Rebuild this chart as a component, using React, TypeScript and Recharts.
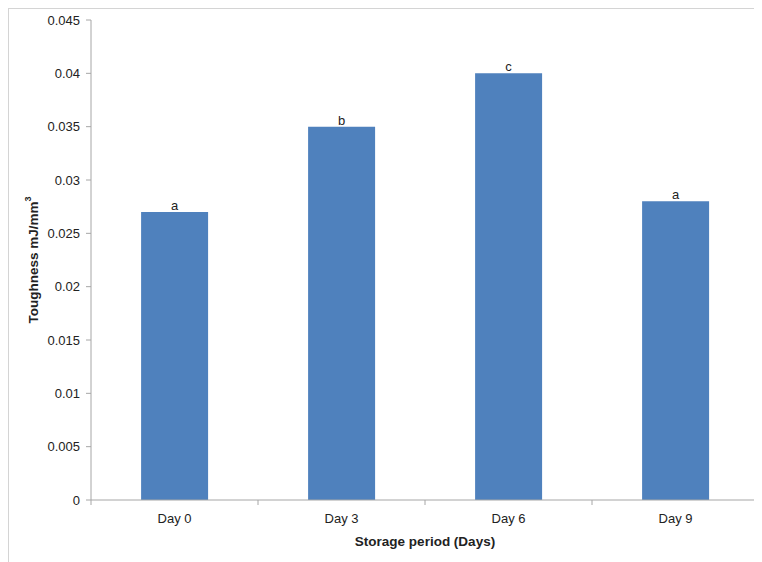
import { Bar, BarChart, LabelList, XAxis, YAxis } from "recharts";

const days = ["Day 0", "Day 3", "Day 6", "Day 9"];
const toughness = [0.027, 0.035, 0.04, 0.028];
const letters = ["a", "b", "c", "a"];
const yTicks = [0, 0.005, 0.01, 0.015, 0.02, 0.025, 0.03, 0.035, 0.04, 0.045];

const data = days.map((day, i) => ({
  day,
  toughness: toughness[i],
  letter: letters[i],
}));

const FONT = "'Liberation Sans', Arial, sans-serif";
const AXIS = "#a6a6a6";

const DayTick = (props: any) => {
  const { x, y, payload, index, visibleTicksCount } = props;
  const half = payload?.offset ?? 83.5;
  const isLast = index === (visibleTicksCount ?? 4) - 1;
  return (
    <g>
      <line x1={x - half} x2={x - half} y1={y - 14} y2={y - 9} stroke={AXIS} />
      {isLast && (
        <line x1={x + half} x2={x + half} y1={y - 14} y2={y - 9} stroke={AXIS} />
      )}
      <text
        x={x}
        y={y}
        dy="0.71em"
        textAnchor="middle"
        fontFamily={FONT}
        fontSize={13}
        fill="#222"
      >
        {payload.value}
      </text>
    </g>
  );
};

const YTitle = ({ viewBox }: any) => {
  const cy = viewBox.y + viewBox.height / 2;
  const cx = 24;
  return (
    <text
      x={cx}
      y={cy}
      transform={`rotate(-90 ${cx} ${cy})`}
      textAnchor="middle"
      dominantBaseline="central"
      fontFamily={FONT}
      fontSize={13.5}
      fontWeight="bold"
      fill="#222"
    >
      Toughness mJ/mm
      <tspan fontSize={9} dy={-5}>
        3
      </tspan>
    </text>
  );
};

export default function App() {
  return (
    <div
      style={{
        width: 754,
        height: 555,
        borderLeft: "2px solid #d4d4d4",
        borderTop: "2px solid #d4d4d4",
        marginTop: -1,
        marginLeft: -1,
        boxSizing: "border-box",
        overflow: "hidden",
      }}
    >
      <BarChart
        width={750}
        height={553}
        data={data}
        margin={{ top: 11, right: 0, bottom: 32, left: 0 }}
        barCategoryGap="30%"
      >
        <XAxis
          dataKey="day"
          axisLine={{ stroke: AXIS }}
          tickLine={false}
          tickSize={0}
          tickMargin={14}
          height={30}
          tick={<DayTick />}
          interval={0}
          label={{
            value: "Storage period (Days)",
            position: "insideBottom",
            offset: -16,
            fontFamily: FONT,
            fontSize: 13.5,
            fontWeight: "bold",
            fill: "#222",
          }}
        />
        <YAxis
          domain={[0, 0.045]}
          ticks={yTicks}
          interval={0}
          width={82}
          axisLine={{ stroke: AXIS }}
          tickLine={{ stroke: AXIS }}
          tickSize={5}
          tickMargin={6}
          tick={{ fontFamily: FONT, fontSize: 13, fill: "#222" }}
          label={<YTitle />}
        />
        <Bar dataKey="toughness" fill="#4f81bd" isAnimationActive={false}>
          <LabelList
            dataKey="letter"
            position="top"
            offset={2}
            fontFamily={FONT}
            fontSize={13}
            fill="#222"
          />
        </Bar>
      </BarChart>
    </div>
  );
}
